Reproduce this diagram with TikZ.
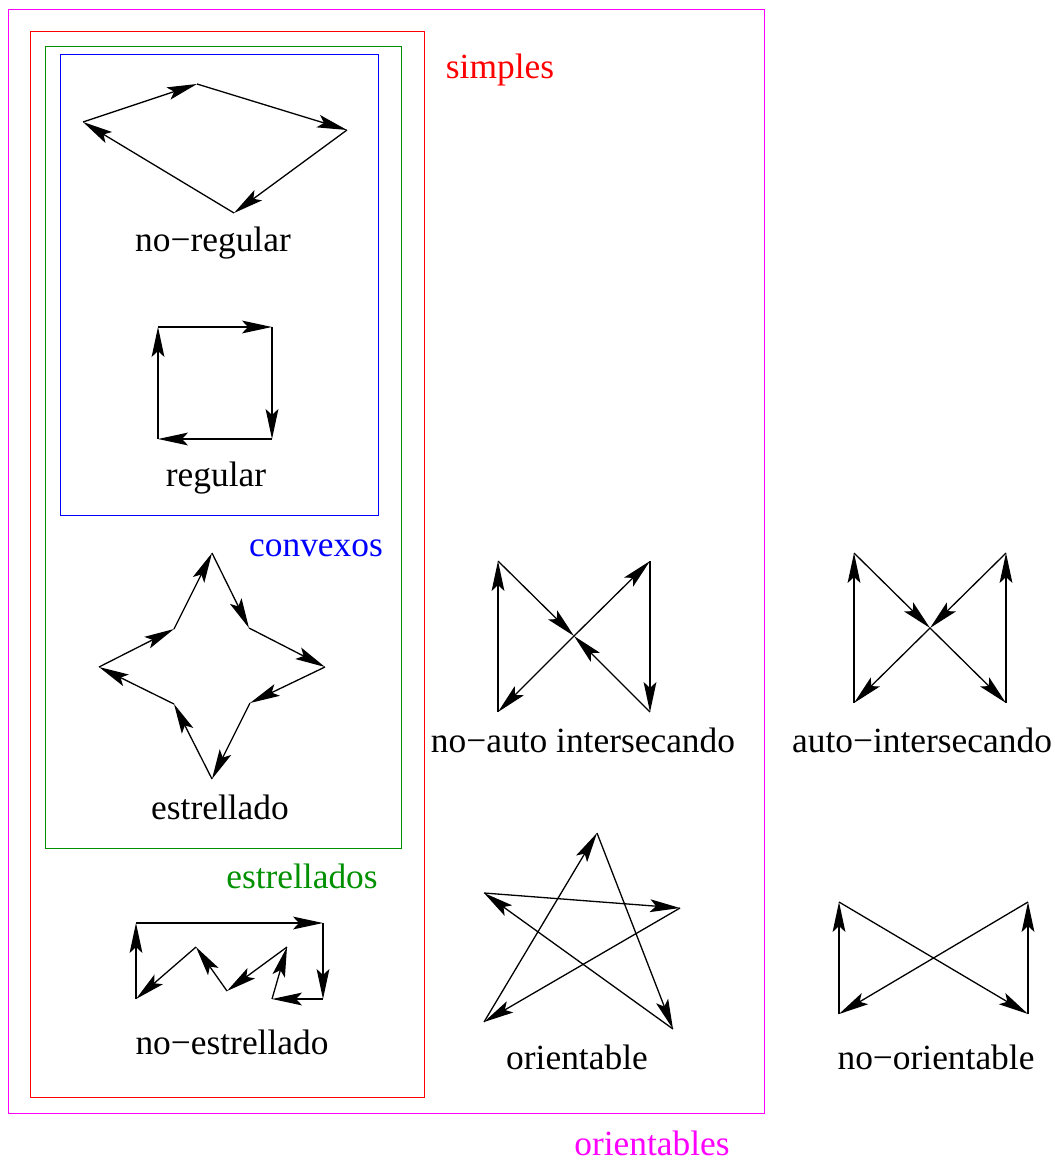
\documentclass[tikz,border=0pt]{standalone}
\usepackage{fontspec}
\setmainfont{Liberation Serif}
\usetikzlibrary{arrows.meta}
\definecolor{figmagenta}{RGB}{255,0,255}
\definecolor{figgreen}{RGB}{0,144,0}
\definecolor{figred}{RGB}{255,0,0}
\definecolor{figblue}{RGB}{0,0,255}
\begin{document}
\begin{tikzpicture}[x=0.5pt,y=-0.5pt,
  edge/.style={line width=0.65pt,-{Stealth[length=15pt,width=6.4pt,inset=3pt]}},
  frame/.style={line width=0.45pt},
  lbl/.style={anchor=base,inner sep=0pt,font=\fontsize{17.7}{20}\selectfont},
  setlbl/.style={anchor=base,inner sep=0pt,font=\fontsize{17.7}{20}\selectfont}]
\useasboundingbox (0,0) rectangle (1054,1160);
% frames
\draw[frame,figmagenta] (8,9) rectangle (764,1113);
\draw[frame,figred] (30,31) rectangle (424,1097);
\draw[frame,figgreen] (45,46) rectangle (401,848);
\draw[frame,figblue] (60,54) rectangle (378,515);
\node[setlbl,figred] (tsimples) at (500,79) {simples};
\node[setlbl,figblue] (tconvexos) at (316,556) {convexos};
\node[setlbl,figgreen] (testrellados) at (302,888) {estrellados};
\node[setlbl,figmagenta] (torientables) at (652,1155) {orientables};
% no-regular
\coordinate (nrA) at (83,122); \coordinate (nrB) at (197,84);
\coordinate (nrC) at (347,130); \coordinate (nrD) at (234,213);
\draw[edge] (nrA) -- (nrB); \draw[edge] (nrB) -- (nrC);
\draw[edge] (nrC) -- (nrD); \draw[edge] (nrD) -- (nrA);
\node[lbl] (tnoregular) at (213,252) {no−regular};
% regular
\coordinate (rTL) at (158,327); \coordinate (rTR) at (272,327);
\coordinate (rBR) at (272,439); \coordinate (rBL) at (158,439);
\draw[edge] (rTL) -- (rTR); \draw[edge] (rTR) -- (rBR);
\draw[edge] (rBR) -- (rBL); \draw[edge] (rBL) -- (rTL);
\node[lbl] (tregular) at (216,486) {regular};
% estrellado
\coordinate (eT) at (212,553); \coordinate (eUR) at (249,628);
\coordinate (eR) at (325,667); \coordinate (eLR) at (250,703);
\coordinate (eB) at (212,779); \coordinate (eLL) at (174,704);
\coordinate (eL) at (99,667); \coordinate (eUL) at (174,629);
\draw[edge] (eUL) -- (eT); \draw[edge] (eT) -- (eUR);
\draw[edge] (eUR) -- (eR); \draw[edge] (eR) -- (eLR);
\draw[edge] (eLR) -- (eB); \draw[edge] (eB) -- (eLL);
\draw[edge] (eLL) -- (eL); \draw[edge] (eL) -- (eUL);
\node[lbl] (testrellado) at (220,819) {estrellado};
% no-estrellado
\coordinate (neTL) at (136,923); \coordinate (neTR) at (323,923);
\coordinate (neBR) at (323,999); \coordinate (neBL2) at (272,999);
\coordinate (neP3) at (287,947); \coordinate (neV2) at (227,991);
\coordinate (neP1) at (196,947); \coordinate (neBL) at (136,999);
\draw[edge] (neBL) -- (neTL); \draw[edge] (neTL) -- (neTR);
\draw[edge] (neTR) -- (neBR); \draw[edge] (neBR) -- (neBL2);
\draw[edge] (neBL2) -- (neP3); \draw[edge] (neP3) -- (neV2);
\draw[edge] (neV2) -- (neP1); \draw[edge] (neP1) -- (neBL);
\node[lbl] (tnoestrellado) at (232,1054) {no−estrellado};
% no-auto intersecando
\coordinate (naTL) at (498,561); \coordinate (naTR) at (650,561);
\coordinate (naBR) at (650,712); \coordinate (naBL) at (498,712);
\coordinate (naC) at (574,636);
\draw[edge] (naBL) -- (naTL); \draw[edge] (naTL) -- (naC);
\draw[edge] (naC) -- (naTR); \draw[edge] (naTR) -- (naBR);
\draw[edge] (naBR) -- (naC); \draw[edge] (naC) -- (naBL);
\node[lbl] (tnoauto) at (583,752) {no−auto intersecando};
% auto-intersecando
\coordinate (aTL) at (854,553); \coordinate (aTR) at (1006,553);
\coordinate (aBR) at (1006,703); \coordinate (aBL) at (854,703);
\coordinate (aC) at (930,628);
\draw[edge] (aBL) -- (aTL); \draw[edge] (aTL) -- (aC);
\draw[edge] (aC) -- (aBR); \draw[edge] (aBR) -- (aTR);
\draw[edge] (aTR) -- (aC); \draw[edge] (aC) -- (aBL);
\node[lbl] (tauto) at (922,752) {auto−intersecando};
% orientable
\coordinate (oT) at (597,833); \coordinate (oR) at (680,908);
\coordinate (oBL) at (484,1022); \coordinate (oBR) at (673,1029);
\coordinate (oL) at (484,893);
\draw[edge] (oBL) -- (oT); \draw[edge] (oT) -- (oBR);
\draw[edge] (oBR) -- (oL); \draw[edge] (oL) -- (oR);
\draw[edge] (oR) -- (oBL);
\node[lbl] (torientable) at (577,1069) {orientable};
% no-orientable
\coordinate (noTL) at (839,902); \coordinate (noTR) at (1028,902);
\coordinate (noBR) at (1028,1014); \coordinate (noBL) at (839,1014);
\draw[edge] (noBL) -- (noTL); \draw[edge] (noTL) -- (noBR);
\draw[edge] (noBR) -- (noTR); \draw[edge] (noTR) -- (noBL);
\node[lbl] (tnoorientable) at (936,1069) {no−orientable};
\end{tikzpicture}
\end{document}
